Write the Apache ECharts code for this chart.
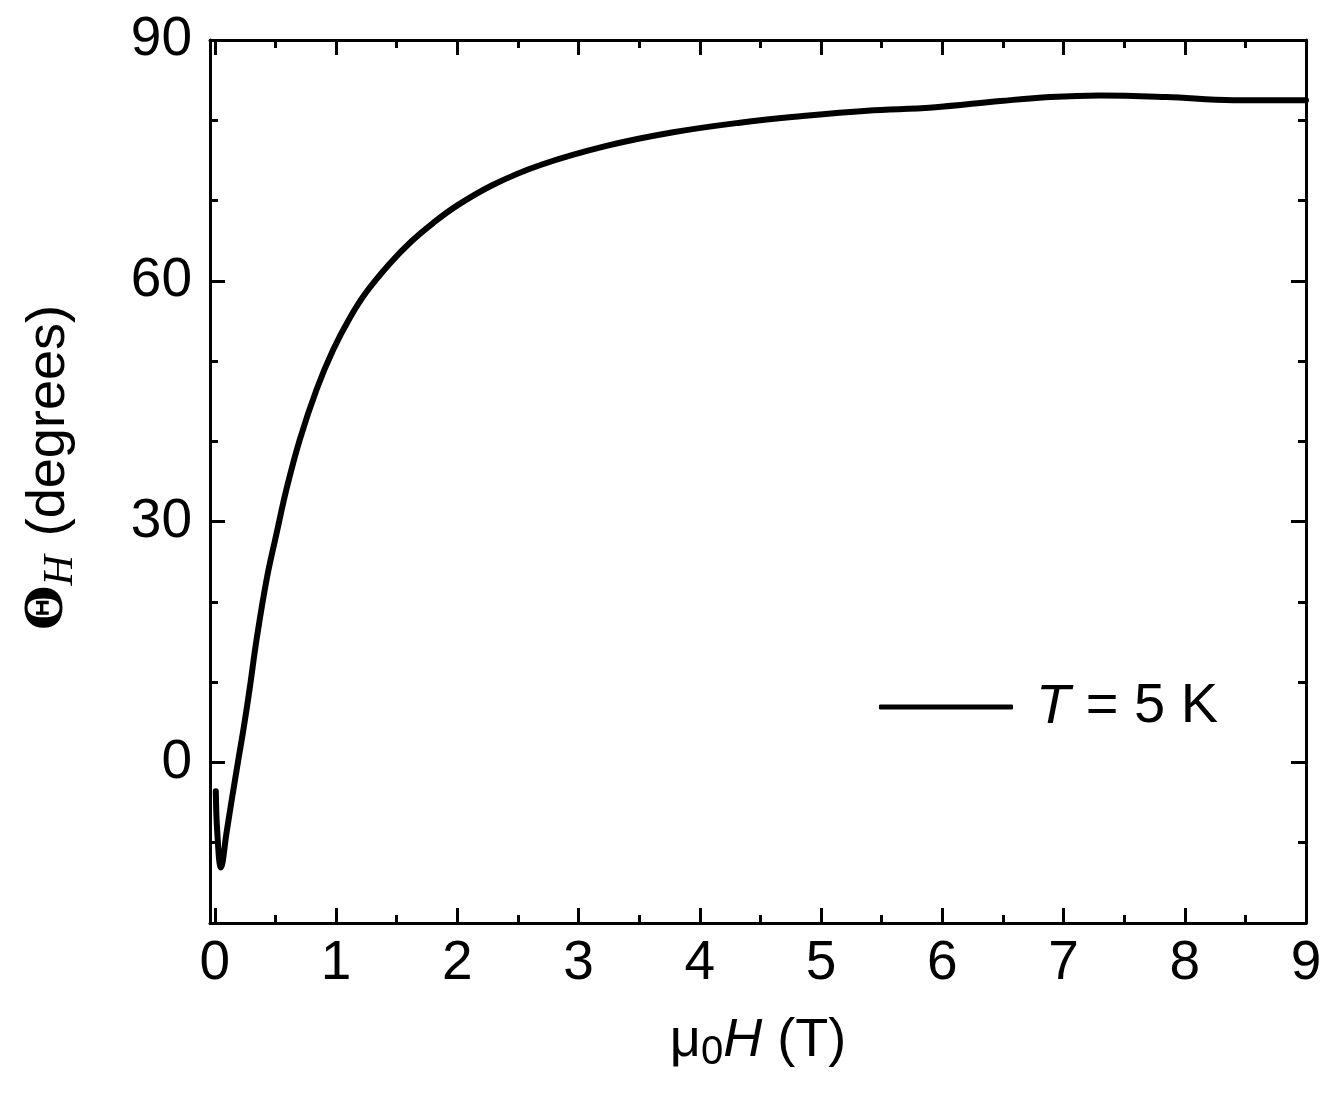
<!DOCTYPE html>
<html>
<head>
<meta charset="utf-8">
<script src="https://cdn.jsdelivr.net/npm/echarts@6/dist/echarts.min.js"></script>
<style>
  html, body { margin: 0; padding: 0; background: #fff; }
  #chart { width: 1328px; height: 1094px; }
</style>
</head>
<body>
<div id="chart"></div>
<script>
// field (T) and Hall angle (degrees)
const fieldT = [0.008, 0.02, 0.05, 0.097, 0.14, 0.19, 0.24, 0.29, 0.344, 0.427, 0.51, 0.59, 0.70, 0.84, 0.976,
    1.114, 1.25, 1.44, 1.62, 1.80, 2.0, 2.3, 2.68, 3.23, 3.78, 4.33, 4.83, 5.38, 5.92, 6.48, 6.89, 7.30, 7.85, 8.40, 8.95, 9.0];
const thetaH = [-3.6, -8.7, -13.1, -8.7, -4.6, 0, 4.5, 9.5, 15.3, 22.8, 28.6, 34.0, 40.2, 46.5, 51.4,
    55.4, 58.6, 62.1, 64.9, 67.2, 69.4, 72.0, 74.4, 76.8, 78.5, 79.7, 80.5, 81.2, 81.6, 82.4, 82.9, 83.1, 82.9, 82.5, 82.5, 82.5];

const xMajor = [0, 1, 2, 3, 4, 5, 6, 7, 8, 9];
const xMinor = [0.5, 1.5, 2.5, 3.5, 4.5, 5.5, 6.5, 7.5, 8.5];
const yMajor = [0, 30, 60, 90];
const yMinor = [-10, 10, 20, 40, 50, 70, 80];

const FONT = 'Liberation Sans';
const chart = echarts.init(document.getElementById('chart'), null, { renderer: 'canvas' });

const lineStyle = { color: '#000', width: 3 };

// one axis per tick set (major/minor) and per side (ticks mirrored on all four sides)
function xAx(pos, ticks, len, withLine, withLabels) {
    return {
        type: 'value', min: -0.04, max: 9, position: pos,
        axisLine: { show: withLine, onZero: false, lineStyle: lineStyle },
        axisTick: { show: true, inside: true, length: len, lineStyle: lineStyle, customValues: ticks },
        axisLabel: withLabels
            ? { show: true, customValues: ticks, color: '#000', fontFamily: FONT, fontSize: 55, margin: 13 }
            : { show: false },
        splitLine: { show: false }
    };
}
function yAx(pos, ticks, len, withLine, withLabels) {
    return {
        type: 'value', min: -20, max: 90, position: pos,
        axisLine: { show: withLine, onZero: false, lineStyle: lineStyle },
        axisTick: { show: true, inside: true, length: len, lineStyle: lineStyle, customValues: ticks },
        axisLabel: withLabels
            ? { show: true, customValues: ticks, color: '#000', fontFamily: FONT, fontSize: 55, margin: 18 }
            : { show: false },
        splitLine: { show: false }
    };
}

const xMain = xAx('bottom', xMajor, 15, true, true);
xMain.name = '{mu|μ}{sub|0}{it|H} (T)';
xMain.nameLocation = 'middle';
xMain.nameGap = 86;
xMain.nameTextStyle = {
    color: '#000', fontFamily: FONT, fontSize: 54,
    rich: {
        mu: { fontFamily: FONT, fontSize: 54, color: '#000' },
        sub: { fontFamily: FONT, fontSize: 40, color: '#000', padding: [24, 0, 0, 0] },
        it: { fontFamily: FONT, fontSize: 54, fontStyle: 'italic', color: '#000' }
    }
};

const yMain = yAx('left', yMajor, 15, true, true);
yMain.name = '{th|Θ}{sub|H} (degrees)';
yMain.nameLocation = 'middle';
yMain.nameGap = 128;
yMain.nameRotate = 90;
yMain.nameTextStyle = {
    color: '#000', fontFamily: FONT, fontSize: 54,
    padding: [0, -28, 0, 0],
    rich: {
        th: { fontFamily: 'DejaVu Serif', fontWeight: 'bold', fontSize: 51, color: '#000' },
        sub: { fontFamily: 'Liberation Serif', fontStyle: 'italic', fontSize: 42, color: '#000', padding: [24, 4, 0, 0] }
    }
};

const option = {
    backgroundColor: '#fff',
    animation: false,
    grid: { left: 210, right: 22, top: 40, bottom: 171, containLabel: false },
    legend: {
        left: 874, top: 674,
        itemWidth: 134, itemHeight: 5,
        icon: 'roundRect',
        itemStyle: { color: '#000' },
        formatter: () => '{it|T} = 5 K',
        textStyle: {
            color: '#000', fontFamily: FONT, fontSize: 56,
            rich: {
                it: { fontFamily: FONT, fontStyle: 'italic', fontSize: 56, color: '#000', padding: [0, 0, 0, 18] }
            }
        }
    },
    xAxis: [
        xMain,
        xAx('bottom', xMinor, 8, false, false),
        xAx('top', xMajor, 15, true, false),
        xAx('top', xMinor, 8, false, false)
    ],
    yAxis: [
        yMain,
        yAx('left', yMinor, 8, false, false),
        yAx('right', yMajor, 15, true, false),
        yAx('right', yMinor, 8, false, false)
    ],
    series: [{
        name: 'T5K',
        type: 'line',
        xAxisIndex: 0, yAxisIndex: 0,
        data: fieldT.map((x, i) => [x, thetaH[i]]),
        symbol: 'none',
        smooth: 0.4,
        clip: true,
        lineStyle: { color: '#000', width: 6, cap: 'round', join: 'round' },
        itemStyle: { color: '#000' }
    }]
};

chart.setOption(option);
</script>
</body>
</html>
